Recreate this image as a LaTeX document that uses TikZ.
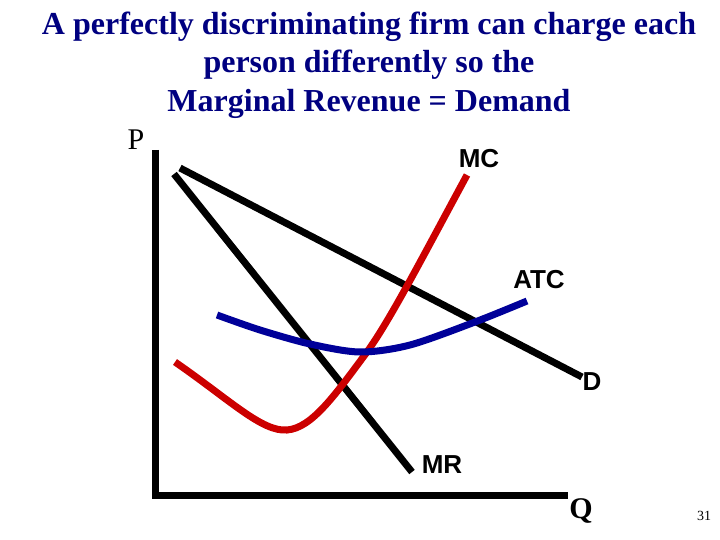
\documentclass[tikz,border=0pt]{standalone}
\usepackage{fontspec}
\setmainfont{Liberation Serif}
\newfontfamily\curvefont{Liberation Sans}
\usepackage{tikz}
\usetikzlibrary{positioning}
\definecolor{titleblue}{RGB}{0,0,128}
\definecolor{mcred}{RGB}{204,0,0}
\definecolor{atcblue}{RGB}{0,0,153}

\begin{document}
\begin{tikzpicture}[x=1pt, y=-1pt,
    curvelabel/.style={font=\curvefont\bfseries\fontsize{26}{30}\selectfont, inner sep=0pt},
    axislabel/.style={font=\fontsize{30}{34}\selectfont, inner sep=0pt},
    curveline/.style={line width=7pt}]
  \useasboundingbox (0,0) rectangle (720,540);

  % title
  \node[font=\bfseries\fontsize{32}{38.5}\selectfont, text=titleblue,
        align=center, inner sep=0pt] (title) at (369,65)
    {A perfectly discriminating firm can charge each\\
     person differently so the\\
     Marginal Revenue = Demand};

  % axes
  \coordinate (ytop) at (155,150);
  \coordinate (origin) at (155,495);
  \coordinate (xend) at (568,495);
  \draw[line width=7pt] (ytop) -- (origin) -- (xend);
  \node[axislabel] (P) at (136,140) {P};
  \node[axislabel, font=\bfseries\fontsize{30}{34}\selectfont] (Q) at (581,511) {Q};

  % demand and marginal revenue
  \coordinate (Dtop) at (180,168);
  \coordinate (Dend) at (582,377);
  \coordinate (MRtop) at (174,174);
  \coordinate (MRend) at (412,472);
  \draw[curveline] (Dtop) -- (Dend);
  \draw[curveline] (MRtop) -- (MRend);

  % marginal cost
  \coordinate (MCstart) at (175,362);
  \coordinate (MCmin) at (287,430);
  \coordinate (MCmid) at (367,352);
  \coordinate (MCend) at (467,175);
  \draw[curveline, mcred] (MCstart)
    .. controls (230,400) and (262,432) .. (MCmin)
    .. controls (312,428) and (335,395) .. (MCmid)
    .. controls (390,320) and (420,262) .. (MCend);

  % average total cost
  \draw[curveline, atcblue] plot[smooth] coordinates
    {(217,315) (260,330) (310,344) (360,352) (410,345)
     (475,322) (527,301)};

  % curve labels
  \node[curvelabel] (MC) at (479,159) {MC};
  \node[curvelabel] (ATC) at (539,280) {ATC};
  \node[curvelabel] (D) at (592,382) {D};
  \node[curvelabel] (MR) at (442,465) {MR};

  \node[font=\fontsize{14}{16}\selectfont, inner sep=0pt] (page) at (704,516) {31};
\end{tikzpicture}
\end{document}
